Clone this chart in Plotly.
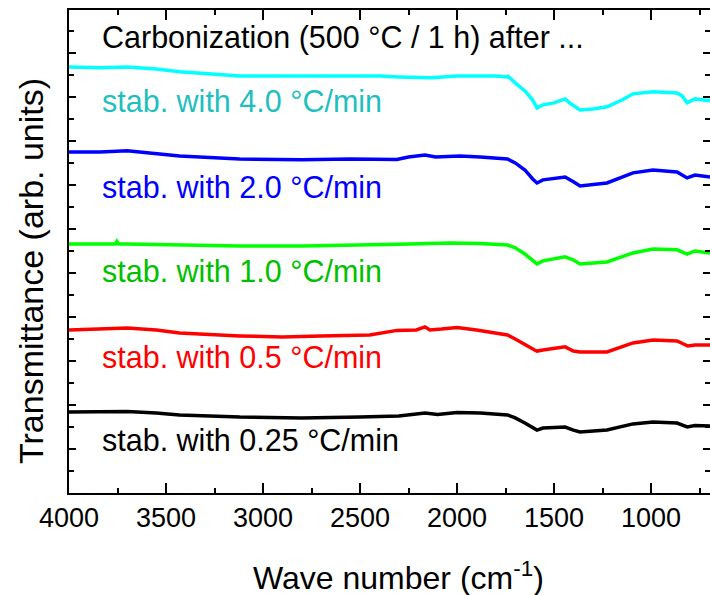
import plotly.graph_objects as go

# ---- data (wave number in cm^-1, transmittance in arb. units, offset-stacked) ----
wn_cyan = [4000, 3840, 3700, 3550, 3430, 3120, 2800, 2550, 2400, 2300, 2130, 2000, 1800, 1745, 1737, 1700, 1650, 1610, 1588, 1557, 1500, 1443, 1420, 1366, 1300, 1227, 1150, 1093, 990, 866, 840, 814, 773, 696]
t_cyan = [19.36, 19.32, 19.36, 19.27, 19.14, 18.95, 18.95, 18.95, 18.95, 18.91, 18.87, 18.95, 18.95, 18.91, 18.94, 18.64, 18.27, 17.86, 17.50, 17.64, 17.73, 17.91, 17.73, 17.41, 17.45, 17.55, 17.86, 18.14, 18.23, 18.18, 18.05, 17.73, 17.91, 17.82]

wn_blue = [4000, 3840, 3700, 3550, 3430, 3120, 2800, 2550, 2400, 2310, 2250, 2165, 2110, 2036, 1985, 1880, 1740, 1700, 1650, 1610, 1588, 1557, 1443, 1400, 1366, 1227, 1093, 990, 866, 814, 773, 696]
t_blue = [15.50, 15.50, 15.55, 15.41, 15.32, 15.18, 15.14, 15.18, 15.18, 15.16, 15.27, 15.36, 15.27, 15.32, 15.32, 15.27, 15.18, 15.00, 14.68, 14.27, 14.09, 14.23, 14.36, 14.14, 13.95, 14.09, 14.55, 14.68, 14.59, 14.32, 14.45, 14.36]

wn_green = [4000, 3840, 3760, 3753, 3745, 3700, 3430, 3120, 2800, 2550, 2300, 2036, 1880, 1740, 1700, 1650, 1610, 1588, 1557, 1443, 1400, 1366, 1227, 1093, 990, 866, 814, 773, 696]
t_green = [11.32, 11.32, 11.32, 11.43, 11.32, 11.32, 11.27, 11.23, 11.23, 11.25, 11.30, 11.36, 11.34, 11.27, 11.14, 10.86, 10.59, 10.41, 10.55, 10.73, 10.59, 10.41, 10.50, 10.91, 11.09, 11.05, 10.86, 11.00, 10.91]

wn_red = [4000, 3840, 3700, 3550, 3430, 3120, 2900, 2700, 2450, 2309, 2210, 2165, 2140, 2080, 2000, 1900, 1740, 1700, 1650, 1600, 1588, 1557, 1443, 1400, 1366, 1227, 1093, 990, 866, 810, 773, 696]
t_red = [7.41, 7.45, 7.50, 7.41, 7.27, 7.14, 7.09, 7.14, 7.18, 7.39, 7.41, 7.55, 7.41, 7.45, 7.52, 7.41, 7.18, 7.00, 6.73, 6.50, 6.45, 6.50, 6.64, 6.45, 6.41, 6.41, 6.82, 6.95, 6.91, 6.68, 6.73, 6.73]

wn_black = [4000, 3700, 3550, 3430, 3120, 2800, 2500, 2300, 2165, 2100, 2000, 1880, 1740, 1700, 1650, 1600, 1588, 1557, 1443, 1400, 1366, 1227, 1093, 990, 866, 814, 773, 696]
t_black = [3.68, 3.70, 3.64, 3.55, 3.45, 3.41, 3.45, 3.50, 3.64, 3.57, 3.66, 3.64, 3.55, 3.41, 3.18, 2.91, 2.86, 2.95, 3.00, 2.86, 2.77, 2.86, 3.14, 3.23, 3.18, 3.00, 3.07, 3.05]

series = [
    ("stab. with 4.0 °C/min", wn_cyan, t_cyan, "#00FFFF", "#1FBFBF"),
    ("stab. with 2.0 °C/min", wn_blue, t_blue, "#0000FF", "#0000FF"),
    ("stab. with 1.0 °C/min", wn_green, t_green, "#00FF00", "#00C000"),
    ("stab. with 0.5 °C/min", wn_red, t_red, "#FF0000", "#FF0000"),
    ("stab. with 0.25 °C/min", wn_black, t_black, "#000000", "#000000"),
]
label_y = [17.82, 13.90, 10.09, 6.18, 2.41]
label_x = 3840
header_text = "Carbonization (500 °C / 1 h) after ..."
header_y = 20.68

x_range = [4000, 696]
y_range = [0, 21.95]

FONT = "Arial, Liberation Sans, sans-serif"

fig = go.Figure()
for name, wx, ty, lc, tc in series:
    fig.add_trace(go.Scatter(x=wx, y=ty, mode="lines", name=name,
                             line=dict(color=lc, width=3.5), showlegend=False))
# dummy trace to carry the right-hand tick axis
fig.add_trace(go.Scatter(x=[None], y=[None], yaxis="y2", showlegend=False))

annotations = [dict(x=label_x, y=header_y, xref="x", yref="y", text=header_text,
                    showarrow=False, xanchor="left", yanchor="middle",
                    font=dict(family=FONT, size=30.5, color="black"))]
for (name, wx, ty, lc, tc), ly in zip(series, label_y):
    annotations.append(dict(x=label_x, y=ly, xref="x", yref="y", text=name,
                            showarrow=False, xanchor="left", yanchor="middle",
                            font=dict(family=FONT, size=30.5, color=tc)))
annotations.append(dict(x=31, y=271, text="Transmittance (arb. units)",
                        showarrow=False, textangle=-90, xanchor="center", yanchor="middle",
                        font=dict(family=FONT, size=34, color="black")))
annotations.append(dict(x=398, y=576, text="Wave number (cm<sup>-1</sup>)",
                        showarrow=False, xanchor="center", yanchor="middle",
                        font=dict(family=FONT, size=32, color="black")))

# convert pixel-positioned title annotations to paper coords
W, H = 710, 595
ml, mr, mt, mb = 69, 0, 10, 102
pw, ph = W - ml - mr, H - mt - mb
for a in annotations[-2:]:
    px, py = a["x"], a["y"]
    a["x"] = (px - ml) / pw
    a["y"] = (H - mb - py) / ph
    a["xref"] = "paper"
    a["yref"] = "paper"

fig.update_layout(
    width=W, height=H,
    margin=dict(l=ml, r=mr, t=mt, b=mb),
    plot_bgcolor="white", paper_bgcolor="white",
    annotations=annotations,
    xaxis=dict(range=x_range, showgrid=False, zeroline=False,
               showline=True, linecolor="black", linewidth=2, mirror="ticks",
               ticks="inside", ticklen=10, tickwidth=2, tickcolor="black",
               tick0=0, dtick=500,
               minor=dict(ticks="inside", ticklen=5, tickwidth=2, tickcolor="black", dtick=250, showgrid=False),
               tickfont=dict(family=FONT, size=27, color="black")),
    yaxis=dict(range=y_range, showgrid=False, zeroline=False,
               showline=True, linecolor="black", linewidth=2,
               ticks="inside", ticklen=7, tickwidth=2, tickcolor="black",
               tick0=0, dtick=2, showticklabels=False,
               minor=dict(ticks="inside", ticklen=5, tickwidth=2, tickcolor="black", dtick=1, showgrid=False)),
    yaxis2=dict(range=y_range, overlaying="y", side="right", showgrid=False, zeroline=False,
                showline=False, ticks="inside", ticklen=7, tickwidth=2, tickcolor="black",
                tick0=0, dtick=2, showticklabels=False,
                minor=dict(ticks="inside", ticklen=5, tickwidth=2, tickcolor="black", dtick=1, showgrid=False)),
)

fig.write_html("out.html")
